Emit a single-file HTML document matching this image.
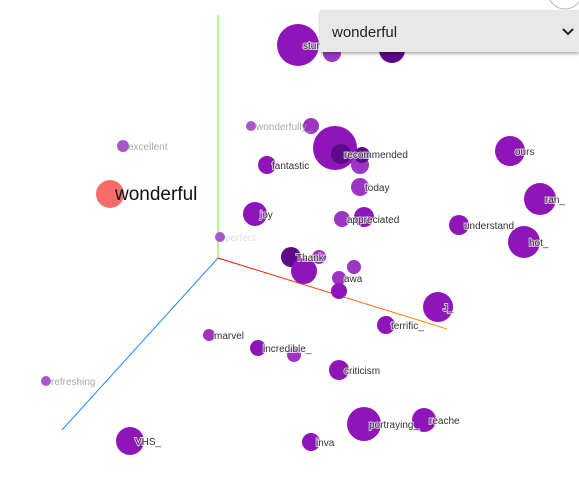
<!DOCTYPE html>
<html><head><meta charset="utf-8"><style>
body{margin:0;width:579px;height:477px;overflow:hidden;background:#fff;font-family:"Liberation Sans",sans-serif}
#dd{position:absolute;left:320px;top:10px;width:259px;height:42px;background:#e8e8e8;box-shadow:0 2px 3px rgba(0,0,0,.3);font-size:15px;color:#222}
#dd span{position:absolute;left:12px;top:14px}
#dd svg{position:absolute;right:4px;top:17px}
</style></head><body>
<svg id="chart" width="579" height="477" style="position:absolute;left:0;top:0">
<defs><linearGradient id="xg" x1="218" y1="258" x2="447" y2="329" gradientUnits="userSpaceOnUse"><stop offset="0" stop-color="#ff0000"/><stop offset="1" stop-color="#ff9900"/></linearGradient></defs>
<line x1="218" y1="258" x2="218" y2="15" stroke="#66ff00" stroke-width="1"/>
<line x1="218" y1="258" x2="447" y2="329" stroke="url(#xg)" stroke-width="1"/>
<line x1="218" y1="258" x2="62" y2="430" stroke="#1e88ff" stroke-width="1"/>
<g id="pts"></g>
</svg>
<svg width="40" height="12" style="position:absolute;left:545px;top:0"><circle cx="20" cy="-8" r="17" fill="#fff" stroke="#bbb"/></svg>
<div id="dd"><span>wonderful</span><svg width="14" height="10" viewBox="0 0 14 10"><path d="M2 2 L7 7 L12 2" fill="none" stroke="#222" stroke-width="2"/></svg></div>
<script>
const labels=["stun","","","wonderfully_","","","","","","fantastic","today","excellent","wonderful","joy","appreciated","","understand","ours","ran_","hot_","perfect","Thank","","","","awa","","J_","terrific_","marvel","incredible_","","criticism","refreshing","VHS_","portraying_","reache","inva","recommended"];
const xs=[298,332,392,251,311,335,341,360,362,267,360,123,110,255,342,364,459,510,540,524,220,291,304,319,354,339,339,438,386,209,258,294,339,46,130,364,424,311,341];
const ys=[45,53,50,126,126,148,154,165,155,165,187,146,194,214,219,217,225,151,199,242,237,257,271,257,267,278,291,307,325,335,348,355,370,381,441,424,420,442,154];
const sizes=[21,9,13,5,8,22,10,9,8,9,9,6,14,12,8,10,10,15,16,16,5,10,13,7,7,7,8,15,9,6,8,7,10,5,14,17,12,9,0];
const kinds=[0,1,2,3,1,0,2,1,2,0,1,3,4,0,1,0,0,0,0,0,3,2,0,1,1,1,0,0,0,1,0,1,0,3,0,0,0,0,0];
const fills=["#8e16b8","#9c35c2","#5d0a8a","#a857c9","#f76b6b"];
const g=document.getElementById('pts');
const NS="http://www.w3.org/2000/svg";
for(let i=0;i<xs.length;i++){
 if(sizes[i]>0){const c=document.createElementNS(NS,'circle');
 
 
 c.setAttribute('cx',xs[i]);c.setAttribute('cy',ys[i]);c.setAttribute('r',sizes[i]);c.setAttribute('fill',fills[kinds[i]]);g.appendChild(c);}
}
for(let i=0;i<xs.length;i++){
 if(!labels[i])continue;
 const t=document.createElementNS(NS,'text');
 
 
 const big=kinds[i]===4;
 t.setAttribute('x',xs[i]+(labels[i]==="recommended"?3:5));t.setAttribute('y',ys[i]+(big?6:4));
 t.setAttribute('font-size',big?19:10);
 t.setAttribute('fill',big?'#111':(labels[i]==="perfect"?'#ddd':(kinds[i]===3?'#aaa':'#333')));
 if(!big&&kinds[i]!==3){t.setAttribute('stroke','#fff');t.setAttribute('stroke-width','2');t.setAttribute('paint-order','stroke');t.setAttribute('stroke-opacity','0.7');}
 t.textContent=labels[i];g.appendChild(t);
}
</script>
</body></html>
